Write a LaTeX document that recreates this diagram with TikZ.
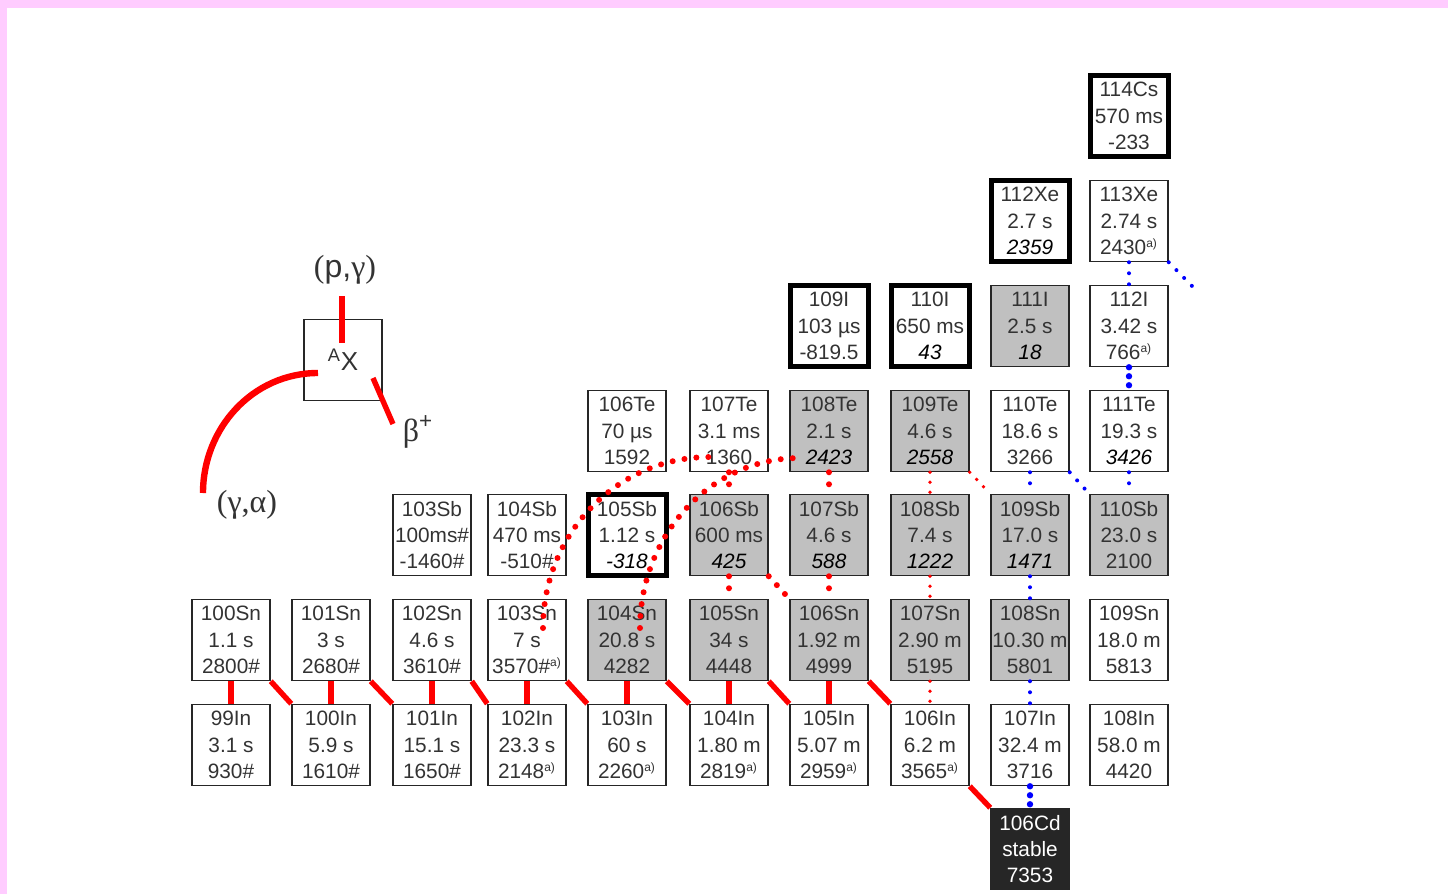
\documentclass[tikz,border=0pt]{standalone}
\usepackage{fontspec}
\setmainfont{Liberation Sans}
\newfontfamily\grkfont{Liberation Serif}
\usetikzlibrary{calc}
\definecolor{frameRose}{RGB}{255,204,255}
\definecolor{knownGray}{RGB}{192,192,192}
\definecolor{stableDark}{RGB}{38,38,38}
\definecolor{decayBlue}{RGB}{0,0,255}
\newcommand{\fa}{\textsuperscript{\fontsize{6}{6}\selectfont a)}}
\newcommand{\ev}[1]{{\itshape\color{black}#1}}

\begin{document}
\begin{tikzpicture}[x=0.5pt,y=-0.5pt,
    every node/.style={font=\fontsize{10.4}{13.2}\selectfont, text=black!80},
    nuc/.style={draw=black!85, line width=0.75pt, minimum width=39pt,
      minimum height=40.5pt, inner sep=0pt, align=center},
    meas/.style={nuc, fill=knownGray},
    newm/.style={nuc, draw=black, line width=2.5pt},
    lab/.style={font=\fontsize{16}{16}\selectfont},
    pg/.style={red, line width=3.2pt},
    bp/.style={red, line width=2.7pt},
    ga/.style={red, line width=3pt, line cap=round, dash pattern=on 0pt off 6pt},
    rdot/.style={red, line width=1.9pt, line cap=round, dash pattern=on 0pt off 5pt},
    bdot/.style={decayBlue, line width=2pt, line cap=round, dash pattern=on 0pt off 5.5pt},
    bbig/.style={decayBlue, line width=3.2pt, line cap=round, dash pattern=on 0pt off 4.5pt}
  ]
  \useasboundingbox (0,0) rectangle (1448,894);
  % frame
  \fill[frameRose] (0,0) rectangle (1448,894);
  \fill[white] (7,8) rectangle (1448,894);

  % legend
  \node[nuc] (ax) at (343,360) {\fontsize{13}{13}\selectfont\textsuperscript{A}X};
  \coordinate (pgtop) at (342,296);
  \coordinate (pgin) at (342,343);
  \coordinate (bpin) at (373,378);
  \coordinate (bpout) at (393,424);
  \coordinate (gain) at (318,373);
  \coordinate (gaout) at (203,493);
  \draw[pg] (pgtop) -- (pgin);
  \draw[bp] (bpin) -- (bpout);
  \draw[pg] (gain) to[out=180,in=90] (gaout);
  \node[lab] (pglab) at (345,270) {{\grkfont(}p,{\grkfont γ)}};
  \node[lab] (bplab) at (418,432) {{\grkfont β}\textsuperscript{+}};
  \node[lab] (galab) at (247,505) {{\grkfont(γ,α)}};

  % indium
  \node[nuc] (in99) at (231,745) {99In\\3.1 s\\930\#};
  \node[nuc] (in100) at (331,745) {100In\\5.9 s\\1610\#};
  \node[nuc] (in101) at (432,745) {101In\\15.1 s\\1650\#};
  \node[nuc] (in102) at (527,745) {102In\\23.3 s\\2148\fa};
  \node[nuc] (in103) at (627,745) {103In\\60 s\\2260\fa};
  \node[nuc] (in104) at (729,745) {104In\\1.80 m\\2819\fa};
  \node[nuc] (in105) at (829,745) {105In\\5.07 m\\2959\fa};
  \node[nuc] (in106) at (930,745) {106In\\6.2 m\\3565\fa};
  \node[nuc] (in107) at (1030,745) {107In\\32.4 m\\3716};
  \node[nuc] (in108) at (1129,745) {108In\\58.0 m\\4420};
  % tin
  \node[nuc] (sn100) at (231,640) {100Sn\\1.1 s\\2800\#};
  \node[nuc] (sn101) at (331,640) {101Sn\\3 s\\2680\#};
  \node[nuc] (sn102) at (432,640) {102Sn\\4.6 s\\3610\#};
  \node[nuc] (sn103) at (527,640) {103Sn\\7 s\\3570\#\fa};
  \node[meas] (sn104) at (627,640) {104Sn\\20.8 s\\4282};
  \node[meas] (sn105) at (729,640) {105Sn\\34 s\\4448};
  \node[meas] (sn106) at (829,640) {106Sn\\1.92 m\\4999};
  \node[meas] (sn107) at (930,640) {107Sn\\2.90 m\\5195};
  \node[meas] (sn108) at (1030,640) {108Sn\\10.30 m\\5801};
  \node[nuc] (sn109) at (1129,640) {109Sn\\18.0 m\\5813};
  % antimony
  \node[nuc] (sb103) at (432,535) {103Sb\\100ms\#\\-1460\#};
  \node[nuc] (sb104) at (527,535) {104Sb\\470 ms\\-510\#};
  \node[newm] (sb105) at (627,535) {105Sb\\1.12 s\\\ev{-318}};
  \node[meas] (sb106) at (729,535) {106Sb\\600 ms\\\ev{425}};
  \node[meas] (sb107) at (829,535) {107Sb\\4.6 s\\\ev{588}};
  \node[meas] (sb108) at (930,535) {108Sb\\7.4 s\\\ev{1222}};
  \node[meas] (sb109) at (1030,535) {109Sb\\17.0 s\\\ev{1471}};
  \node[meas] (sb110) at (1129,535) {110Sb\\23.0 s\\2100};
  % tellurium
  \node[nuc] (te106) at (627,431) {106Te\\70 µs\\1592};
  \node[nuc] (te107) at (729,431) {107Te\\3.1 ms\\1360};
  \node[meas] (te108) at (829,431) {108Te\\2.1 s\\\ev{2423}};
  \node[meas] (te109) at (930,431) {109Te\\4.6 s\\\ev{2558}};
  \node[nuc] (te110) at (1030,431) {110Te\\18.6 s\\3266};
  \node[nuc] (te111) at (1129,431) {111Te\\19.3 s\\\ev{3426}};
  % iodine, xenon, caesium
  \node[newm] (i109) at (829,326) {109I\\103 µs\\-819.5};
  \node[newm] (i110) at (930,326) {110I\\650 ms\\\ev{43}};
  \node[meas] (i111) at (1030,326) {111I\\2.5 s\\\ev{18}};
  \node[nuc] (i112) at (1129,326) {112I\\3.42 s\\766\fa};
  \node[newm] (xe112) at (1030,221) {112Xe\\2.7 s\\\ev{2359}};
  \node[nuc] (xe113) at (1129,221) {113Xe\\2.74 s\\2430\fa};
  \node[newm] (cs114) at (1129,116) {114Cs\\570 ms\\-233};
  % end point
  \node[nuc, fill=stableDark, text=white] (cd106) at (1030,849) {106Cd\\stable\\7353};

  % (p,gamma) captures
  \draw[pg] (in99) -- (sn100);
  \draw[pg] (in100) -- (sn101);
  \draw[pg] (in101) -- (sn102);
  \draw[pg] (in102) -- (sn103);
  \draw[pg] (in103) -- (sn104);
  \draw[pg] (in104) -- (sn105);
  \draw[pg] (in105) -- (sn106);
  % beta+ decays
  \draw[bp] (sn100.south east) -- (in100.north west);
  \draw[bp] (sn101.south east) -- (in101.north west);
  \draw[bp] (sn102.south east) -- (in102.north west);
  \draw[bp] (sn103.south east) -- (in103.north west);
  \draw[bp] (sn104.south east) -- (in104.north west);
  \draw[bp] (sn105.south east) -- (in105.north west);
  \draw[bp] (sn106.south east) -- (in106.north west);
  \draw[bp] (in106.south east) -- (cd106.north west);

  % SnSbTe cycles
  \draw[ga] ($(sn103.center)+(16,-12)$) to[out=90,in=180] ($(te107.center)+(-19,26)$);
  \draw[ga] ($(sn104.center)+(13,-12)$) to[out=90,in=180] ($(te108.center)+(-29,27)$);
  \draw[ga] (te107) -- (sb106);
  \draw[ga] (te108) -- (sb107);
  \draw[ga] (sb106) -- (sn105);
  \draw[ga] (sb107) -- (sn106);
  \draw[ga] (sb106.south east) -- (sn106.north west);
  \draw[rdot] (te109) -- (sb108);
  \draw[rdot] (sb108) -- (sn107);
  \draw[rdot] (sn107) -- (in106);
  \draw[rdot] (te109.south east) -- (sb109.north west);

  % blue branch
  \coordinate (xeoff) at (1192,286);
  \draw[bdot] (xe113) -- (i112);
  \draw[bdot] (xe113.south east) -- (xeoff);
  \draw[bbig] (i112) -- (te111);
  \draw[bdot] (te110) -- (sb109);
  \draw[bdot] (te110.south east) -- (sb110.north west);
  \draw[bdot] (te111) -- (sb110);
  \draw[bdot] (sb109) -- (sn108);
  \draw[bdot] (sn108) -- (in107);
  \draw[bbig] (in107) -- (cd106);
\end{tikzpicture}
\end{document}
